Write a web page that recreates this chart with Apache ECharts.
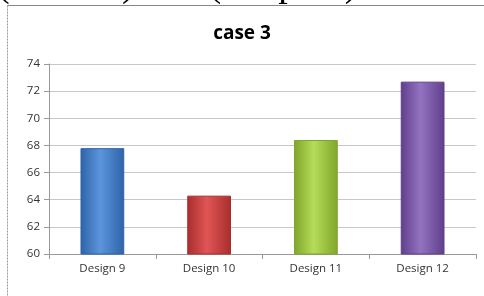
<!DOCTYPE html>
<html><head><meta charset="utf-8">
<script src="https://cdn.jsdelivr.net/npm/echarts@6/dist/echarts.min.js"></script>
<style>html,body{margin:0;padding:0;background:#fff}#c{width:484px;height:296px}</style>
</head><body><div id="c"></div>
<script>
const categories = ['Design 9', 'Design 10', 'Design 11', 'Design 12'];
const values = [67.8, 64.3, 68.4, 72.7];
const yTicks = [60, 62, 64, 66, 68, 70, 72, 74];
const barColors = [
  ['#2f63a8', '#5b95dc', '#2f63a8'],
  ['#a92d2d', '#e05555', '#a92d2d'],
  ['#7fa52a', '#b6dc5a', '#7fa52a'],
  ['#5f3f8a', '#9373c0', '#5f3f8a']
];
const chart = echarts.init(document.getElementById('c'));
function grad(c){return new echarts.graphic.LinearGradient(0,0,1,0,[{offset:0,color:c[0]},{offset:0.45,color:c[1]},{offset:1,color:c[2]}]);}
chart.setOption({
  animation:false,
  title:{text:'case 3',left:'center',top:19,textStyle:{fontFamily:'Open Sans',fontWeight:'bold',fontSize:19,color:'#000'}},
  graphic:[
    {type:'text',x:-3,y:5,style:{text:'(Table 3) and (Graph 3)',font:'38px "Liberation Serif"',fill:'#000',verticalAlign:'bottom'}},
    {type:'line',shape:{x1:7.5,y1:5.5,x2:484,y2:5.5},style:{stroke:'#888',lineWidth:1}},
    {type:'line',shape:{x1:7.5,y1:5.5,x2:7.5,y2:296},style:{stroke:'#999',lineWidth:1,lineDash:[2,1]}}
  ],
  grid:{left:49,right:8,top:64,bottom:42},
  xAxis:{type:'category',data:categories,
    axisLine:{lineStyle:{color:'#999'}},
    axisTick:{show:true,length:5,lineStyle:{color:'#999'}},
    axisLabel:{color:'#333',fontFamily:'Open Sans',fontSize:11.5,margin:9}},
  yAxis:{type:'value',min:yTicks[0],max:yTicks[yTicks.length-1],interval:2,
    axisLine:{show:true,lineStyle:{color:'#999'}},
    axisTick:{show:true,length:5,lineStyle:{color:'#999'}},
    splitLine:{lineStyle:{color:'#c8c8c8'}},
    axisLabel:{color:'#333',fontFamily:'Open Sans',fontSize:11.5,margin:9}},
  series:[{type:'bar',barWidth:'41%',
    data:values.map((v,i)=>({value:v,itemStyle:{color:grad(barColors[i]),borderColor:barColors[i][0],borderWidth:1}}))}]
});
</script></body></html>
